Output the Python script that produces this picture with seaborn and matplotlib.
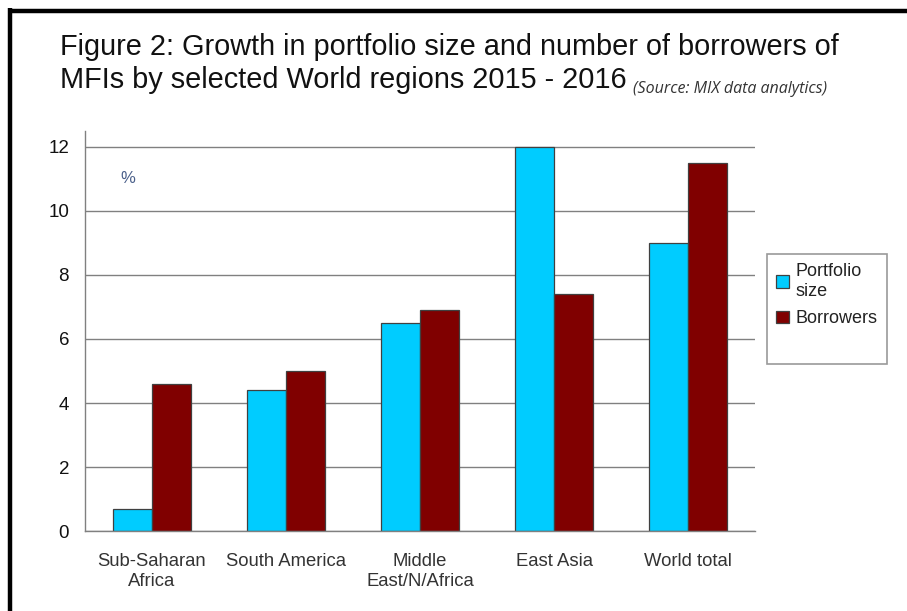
import matplotlib
matplotlib.use("Agg")
import matplotlib.pyplot as plt
from matplotlib.lines import Line2D
from matplotlib.patches import Rectangle
import seaborn as sns
import pandas as pd

# Growth 2015-2016, in percent
regions = ["Sub-Saharan\nAfrica", "South America", "Middle\nEast/N/Africa", "East Asia", "World total"]
portfolio_size = [0.7, 4.4, 6.5, 12.0, 9.0]
borrowers = [4.6, 5.0, 6.9, 7.4, 11.5]
series_names = ["Portfolio\nsize", "Borrowers"]
y_ticks = [0, 2, 4, 6, 8, 10, 12]

df = pd.DataFrame({
    "region": regions * 2,
    "value": portfolio_size + borrowers,
    "series": [series_names[0]] * len(regions) + [series_names[1]] * len(regions),
})

sns.set_style("white")
plt.rcParams["font.family"] = ["Liberation Sans", "DejaVu Sans"]

W, H = 907, 611
fig = plt.figure(figsize=(W / 100, H / 100), dpi=100)
fig.patch.set_facecolor("white")

# plot area in pixel units
x0, x1 = 85, 755
y_bottom, y_top = 531, 131
ax = fig.add_axes([x0 / W, (H - y_bottom) / H, (x1 - x0) / W, (y_bottom - y_top) / H])

sns.barplot(data=df, x="region", y="value", hue="series",
            palette=["#00CCFF", "#800000"], width=0.575, gap=0,
            edgecolor="#404040", linewidth=0.9, saturation=1, ax=ax)

handles, labels = ax.get_legend_handles_labels()
if ax.get_legend() is not None:
    ax.get_legend().remove()

ax.set_xlim(-0.5, len(regions) - 0.5)
ax.set_ylim(0, 12.5)
ax.set_yticks(y_ticks)
ax.set_yticklabels([str(v) for v in y_ticks])
ax.set_xlabel("")
ax.set_ylabel("")
ax.set_axisbelow(True)
ax.yaxis.grid(True, color="#808080", linewidth=1)
ax.xaxis.grid(False)

for side in ("top", "right"):
    ax.spines[side].set_visible(False)
for side in ("left", "bottom"):
    ax.spines[side].set_color("#808080")
    ax.spines[side].set_linewidth(1)

# category labels centred, tick marks between categories
ax.set_xticks(range(len(regions)))
ax.set_xticklabels(regions, linespacing=1.25)
ax.set_xticks([i - 0.5 for i in range(len(regions) + 1)], minor=True)
ax.tick_params(axis="x", which="major", length=0, pad=16, labelsize=13.3, labelcolor="#333333")
ax.tick_params(axis="x", which="minor", length=5, width=1, color="#808080", direction="out")
ax.tick_params(axis="y", which="major", length=8, width=1, color="#808080", direction="out",
               pad=3.5, labelsize=13.5, labelcolor="#111111")

ax.text(0.064, 0.882, "%", transform=ax.transAxes, fontsize=12, color="#4a5f8a",
        ha="center", va="center")

# legend box leaves empty room below the entries
spacer = Rectangle((0, 0), 1, 1, fill=False, edgecolor="none", linewidth=0)
leg = fig.legend(handles + [spacer], series_names + [" "], loc="upper left",
                 bbox_to_anchor=(767 / W, 1 - 254 / H),
                 frameon=True, fancybox=False, edgecolor="#808080",
                 fontsize=13, handlelength=0.7, handleheight=0.7, handletextpad=0.4,
                 borderpad=0.5, labelspacing=0.6, borderaxespad=0)
leg.get_frame().set_linewidth(1.2)
for t in leg.get_texts():
    t.set_color("#222222")

# title lines and source note
fig.text(60 / W, 1 - 55 / H, "Figure 2: Growth in portfolio size and number of borrowers of",
         fontsize=20.8, va="baseline", ha="left", color="#111111")
fig.text(60 / W, 1 - 88 / H, "MFIs by selected World regions 2015 - 2016",
         fontsize=20.8, va="baseline", ha="left", color="#111111")
fig.text(633 / W, 1 - 93 / H, "(Source: MIX data analytics)", fontsize=11.5,
         style="italic", va="baseline", ha="left", color="#333333",
         family=["Open Sans", "DejaVu Sans"])

# black frame on left and top edges
fig.add_artist(Line2D([10 / W, 10 / W], [0, 1 - 8 / H], transform=fig.transFigure,
                      color="black", linewidth=3.2, solid_capstyle="butt"))
fig.add_artist(Line2D([8 / W, 1], [1 - 10.5 / H, 1 - 10.5 / H], transform=fig.transFigure,
                      color="black", linewidth=3.2, solid_capstyle="butt"))

fig.savefig("out.png", dpi=100, facecolor="white")
